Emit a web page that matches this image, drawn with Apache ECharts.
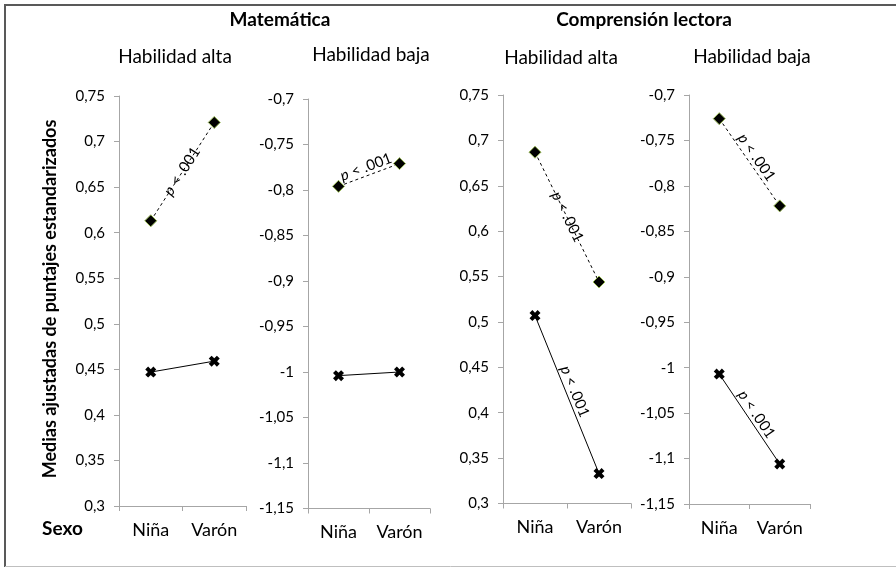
<!DOCTYPE html>
<html>
<head>
<meta charset="utf-8">
<script src="https://cdn.jsdelivr.net/npm/echarts@6/dist/echarts.min.js"></script>
<style>
html,body{margin:0;padding:0;background:#fff;}
#c{width:896px;height:567px;}
</style>
</head>
<body>
<div id="c"></div>
<script>
// ---- data ----
const categories = ['Niña', 'Varón'];
const panelTitles = ['Habilidad alta', 'Habilidad baja', 'Habilidad alta', 'Habilidad baja'];
const groupTitles = ['Matemática', 'Comprensión lectora'];
const yMin = [0.3, -1.15, 0.3, -1.15];
const yMax = [0.75, -0.7, 0.75, -0.7];
// diamond series (dashed line)
const matAltaDiamond = [0.613, 0.721];
const matBajaDiamond = [-0.796, -0.771];
const lecAltaDiamond = [0.687, 0.544];
const lecBajaDiamond = [-0.726, -0.822];
// cross series (solid line)
const matAltaCross = [0.447, 0.459];
const matBajaCross = [-1.004, -1.000];
const lecAltaCross = [0.507, 0.333];
const lecBajaCross = [-1.007, -1.106];

const diamondData = [matAltaDiamond, matBajaDiamond, lecAltaDiamond, lecBajaDiamond];
const crossData = [matAltaCross, matBajaCross, lecAltaCross, lecBajaCross];
const diamondSig = [true, true, true, true];
const crossSig = [false, false, true, true];

const FONT = 'Lato';
const grids = [
  {left: 119, top: 96, width: 127, height: 410},
  {left: 308, top: 99, width: 122, height: 409.5},
  {left: 503, top: 95, width: 128, height: 408.5},
  {left: 689, top: 95, width: 121, height: 409}
];
const diamondPos = ['middle', 'insideMiddleTop', 'middle', 'insideMiddleTop'];
const crossPos = ['', '', 'insideMiddleTop', 'insideMiddleTop'];

const crossPath = 'path://M0,2.6 L2.6,0 L5,2.4 L7.4,0 L10,2.6 L7.6,5 L10,7.4 L7.4,10 L5,7.6 L2.6,10 L0,7.4 L2.4,5 Z';

function fmt(v) {
  return String(+v.toFixed(2)).replace('.', ',');
}

function sigMarkLine(vals, pos) {
  return {
    silent: true,
    symbol: 'none',
    animation: false,
    lineStyle: {color: 'rgba(0,0,0,0)', width: 1},
    label: {
      show: true,
      position: pos,
      distance: pos === 'middle' ? -7 : 1,
      formatter: '{i|p} < .001',
      color: '#000',
      fontFamily: FONT,
      fontSize: 15,
      rich: {i: {fontStyle: 'italic', fontFamily: FONT, fontSize: 15, color: '#000'}}
    },
    data: [[{coord: [0, vals[0]]}, {coord: [1, vals[1]]}]]
  };
}

const xAxes = [], yAxes = [], series = [];
grids.forEach((g, i) => {
  xAxes.push({
    type: 'category', gridIndex: i, data: categories,
    axisLine: {lineStyle: {color: '#a6a6a6'}},
    axisTick: {show: true, length: 5, lineStyle: {color: '#a6a6a6'}},
    axisLabel: {color: '#000', fontFamily: FONT, fontSize: 18, margin: 15}
  });
  yAxes.push({
    type: 'value', gridIndex: i, min: yMin[i], max: yMax[i], interval: 0.05,
    axisLine: {show: true, lineStyle: {color: '#a6a6a6'}},
    axisTick: {show: true, length: 5, lineStyle: {color: '#a6a6a6'}},
    splitLine: {show: false},
    axisLabel: {color: '#000', fontFamily: FONT, fontSize: 15, margin: 14, formatter: fmt}
  });
  const d = {
    type: 'line', xAxisIndex: i, yAxisIndex: i, data: diamondData[i],
    symbol: 'diamond', symbolSize: 12,
    itemStyle: {color: '#000', borderColor: '#9bbb59', borderWidth: 1},
    lineStyle: {color: '#000', width: 1, type: [3, 3]},
    animation: false, z: 3
  };
  if (diamondSig[i]) d.markLine = sigMarkLine(diamondData[i], diamondPos[i]);
  series.push(d);
  const c = {
    type: 'line', xAxisIndex: i, yAxisIndex: i, data: crossData[i],
    symbol: crossPath, symbolSize: 11,
    itemStyle: {color: '#000'},
    lineStyle: {color: '#000', width: 1},
    animation: false, z: 3
  };
  if (crossSig[i]) c.markLine = sigMarkLine(crossData[i], crossPos[i]);
  series.push(c);
});

const titleCenters = [175, 371, 561, 752];
const titleYs = [57, 55, 58, 57];
const graphic = [
  {type: 'line', shape: {x1: 4, y1: 5, x2: 896, y2: 5}, style: {stroke: '#595959', lineWidth: 2}},
  {type: 'line', shape: {x1: 5, y1: 4, x2: 5, y2: 567}, style: {stroke: '#595959', lineWidth: 2}},
  {type: 'line', shape: {x1: 5, y1: 566.5, x2: 896, y2: 566.5}, style: {stroke: '#bfbfbf', lineWidth: 1}},
  {type: 'text', x: 280, y: 20, style: {text: groupTitles[0], font: 'bold 19px ' + FONT, fill: '#000', textAlign: 'center', textVerticalAlign: 'middle'}},
  {type: 'text', x: 644, y: 20, style: {text: groupTitles[1], font: 'bold 19px ' + FONT, fill: '#000', textAlign: 'center', textVerticalAlign: 'middle'}},
  {type: 'text', x: 42, y: 529, style: {text: 'Sexo', font: 'bold 19px ' + FONT, fill: '#000', textAlign: 'left', textVerticalAlign: 'middle'}},
  {type: 'text', x: 50, y: 299, rotation: Math.PI / 2, style: {text: 'Medias ajustadas de puntajes estandarizados', font: 'bold 18px ' + FONT, fill: '#000', textAlign: 'center', textVerticalAlign: 'middle'}}
];
panelTitles.forEach((t, i) => {
  graphic.push({type: 'text', x: titleCenters[i], y: titleYs[i], style: {text: t, font: '19px ' + FONT, fill: '#000', textAlign: 'center', textVerticalAlign: 'middle'}});
});

const chart = echarts.init(document.getElementById('c'), null, {renderer: 'canvas'});
chart.setOption({
  backgroundColor: '#fff',
  animation: false,
  grid: grids,
  xAxis: xAxes,
  yAxis: yAxes,
  series: series,
  graphic: graphic
});
</script>
</body>
</html>
